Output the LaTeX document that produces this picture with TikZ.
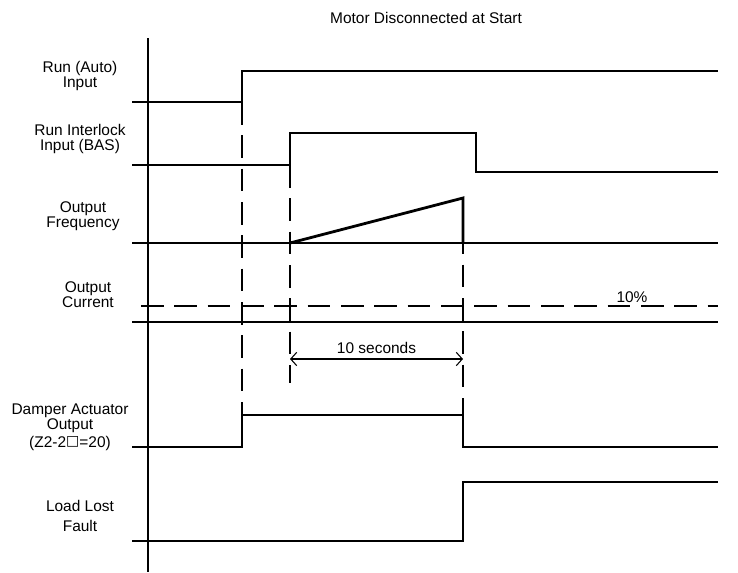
\documentclass[tikz,border=0pt]{standalone}
\usepackage{fontspec}
\setmainfont{Liberation Sans}
\newfontfamily\boxfont{DejaVu Sans}
\usetikzlibrary{arrows.meta}

\begin{document}
\begin{tikzpicture}[x=0.75pt, y=-0.75pt,
    signal/.style={line width=2.1pt},
    guide/.style={line width=2.1pt, dash pattern=on 17pt off 8pt},
    label/.style={align=center, font=\fontsize{11.6}{11.4}\selectfont},
    span/.style={{Straight Barb[length=4.5pt,width=10pt]}-{Straight Barb[length=4.5pt,width=10pt]}, line width=0.8pt}
]
    \useasboundingbox (0,0) rectangle (738,572);

    % Title
    \node[label] (title) at (426,18) {Motor Disconnected at Start};

    % Time axis
    \draw[signal] (148,38) -- (148,572);

    % Run (Auto) input
    \node[label] (runauto) at (80,76) {Run (Auto)\\Input};
    \draw[signal] (132,102) -- (242,102) -- (242,71) -- (718,71);

    % Run interlock input
    \node[label] (interlock) at (80,139) {Run Interlock\\Input (BAS)};
    \draw[signal] (132,165) -- (290,165) -- (290,133) -- (476,133) -- (476,172) -- (718,172);

    % Output frequency
    \node[label] (freq) at (83,216) {Output\\Frequency};
    \draw[signal] (132,243) -- (718,243);
    \draw[signal] (290,243) -- (463,198) -- (463,243);

    % Output current
    \node[label] (current) at (88,295) {Output\\Current};
    \draw[guide] (141,306) -- (718,306);
    \node[label] (level) at (632,297) {10\%};
    \draw[signal] (132,322) -- (718,322);

    % Damper actuator output
    \node[label] (damper) at (70,427) {Damper Actuator\\Output\\[2pt](Z2-2\raisebox{1.2pt}{\boxfont\fontsize{10.5}{11}\selectfont □}=20)};
    \draw[signal] (132,447) -- (242,447) -- (242,415) -- (463,415) -- (463,447) -- (718,447);

    % Load lost fault
    \node[label] (fault) at (80,516) {Load Lost\\[3pt]Fault};
    \draw[signal] (132,541) -- (463,541) -- (463,482) -- (718,482);

    % Timing guides
    \draw[guide] (242,102) -- (242,415);
    \draw[guide] (290,165) -- (290,383);
    \draw[guide] (463,198) -- (463,415);

    % 10 second interval
    \draw[span] (290,359) -- node[label, above] (delay) {10 seconds} (463,359);
\end{tikzpicture}
\end{document}
